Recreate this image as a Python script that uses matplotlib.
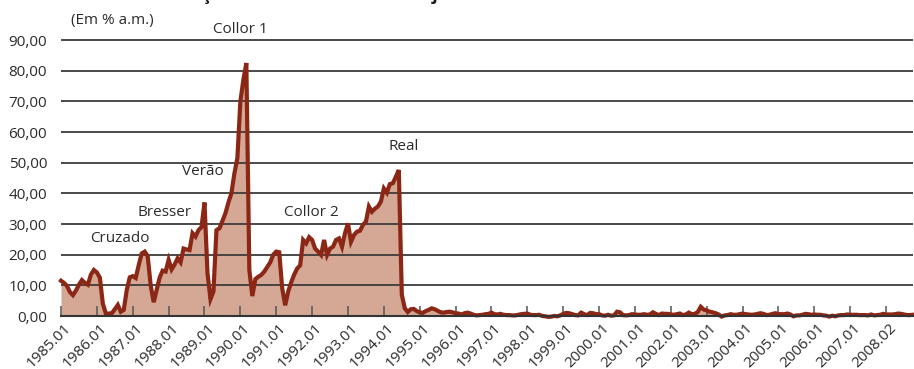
import matplotlib
matplotlib.use("Agg")
import matplotlib.pyplot as plt
import matplotlib.transforms as mtransforms
import numpy as np

plt.rcParams['font.family'] = ['Open Sans', 'DejaVu Sans']

# Monthly inflation (% a.m.), one list per year, starting 1985.01
y1985 = [11.5, 10.8, 9.8, 7.8, 6.8, 8.3, 10.2, 11.7, 10.8, 10.2, 13.5, 15.0]
y1986 = [14.2, 12.5, 4.0, 0.8, 0.8, 0.9, 2.2, 3.6, 1.4, 2.0, 8.5, 12.6]
y1987 = [13.0, 12.4, 16.6, 20.4, 21.0, 19.5, 10.0, 4.5, 8.5, 12.5, 14.8, 14.5]
y1988 = [18.3, 15.2, 16.8, 18.8, 17.5, 22.0, 21.7, 21.5, 27.0, 25.9, 28.0, 29.0]
y1989 = [37.0, 14.0, 5.5, 8.0, 28.0, 28.6, 31.0, 33.5, 37.0, 40.0, 46.5, 51.5]
y1990 = [70.0, 77.0, 82.5, 15.0, 6.5, 12.0, 12.8, 13.4, 14.5, 16.0, 17.5, 20.0]
y1991 = [21.0, 20.8, 9.0, 3.5, 8.0, 11.0, 13.5, 15.5, 16.5, 24.8, 23.7, 25.7]
y1992 = [24.8, 22.0, 21.0, 19.9, 24.8, 19.9, 22.0, 22.6, 24.8, 25.3, 22.6, 27.0]
y1993 = [30.2, 24.2, 26.4, 27.5, 27.8, 29.7, 30.8, 35.7, 34.0, 35.0, 35.7, 37.3]
y1994 = [41.6, 40.2, 43.0, 43.3, 45.4, 47.6, 7.0, 2.5, 1.3, 2.2, 2.3, 1.6]
y1995 = [1.2, 1.0, 1.6, 2.0, 2.5, 2.2, 1.7, 1.2, 1.1, 1.3, 1.4, 1.2]
y1996 = [0.9, 0.8, 0.5, 0.9, 1.1, 0.8, 0.4, 0.2, 0.3, 0.4, 0.6, 0.7]
y1997 = [1.1, 0.6, 0.5, 0.7, 0.4, 0.3, 0.3, 0.2, 0.2, 0.4, 0.6, 0.7]
y1998 = [0.8, 0.4, 0.3, 0.3, 0.4, 0.0, -0.1, -0.3, -0.2, 0.0, -0.1, 0.2]
y1999 = [0.7, 1.0, 0.9, 0.6, 0.3, 0.2, 1.1, 0.6, 0.3, 1.0, 0.9, 0.6]
y2000 = [0.6, 0.2, 0.1, 0.4, 0.1, 0.2, 1.4, 1.2, 0.3, 0.2, 0.3, 0.6]
y2001 = [0.5, 0.4, 0.4, 0.6, 0.4, 0.5, 1.2, 0.7, 0.3, 0.8, 0.7, 0.7]
y2002 = [0.5, 0.4, 0.6, 0.8, 0.3, 0.5, 1.1, 0.6, 0.7, 1.3, 3.0, 2.1]
y2003 = [1.8, 1.4, 1.2, 0.9, 0.5, -0.2, 0.2, 0.3, 0.6, 0.4, 0.4, 0.6]
y2004 = [0.8, 0.6, 0.5, 0.4, 0.5, 0.7, 0.9, 0.7, 0.3, 0.4, 0.7, 0.9]
y2005 = [0.6, 0.6, 0.6, 0.8, 0.5, -0.1, 0.2, 0.2, 0.4, 0.7, 0.6, 0.4]
y2006 = [0.5, 0.4, 0.4, 0.2, 0.1, -0.2, 0.1, -0.1, 0.2, 0.3, 0.3, 0.5]
y2007 = [0.4, 0.4, 0.4, 0.3, 0.3, 0.3, 0.2, 0.5, 0.2, 0.3, 0.4, 0.7]
y2008 = [0.5, 0.5, 0.5, 0.6, 0.8, 0.7, 0.5, 0.3, 0.3, 0.4]

years = [y1985, y1986, y1987, y1988, y1989, y1990, y1991, y1992, y1993,
         y1994, y1995, y1996, y1997, y1998, y1999, y2000, y2001, y2002,
         y2003, y2004, y2005, y2006, y2007, y2008]
inflacao = np.concatenate(years)
meses = np.arange(len(inflacao))

tick_labels = ['1985.01', '1986.01', '1987.01', '1988.01', '1989.01', '1990.01',
               '1991.01', '1992.01', '1993.01', '1994.01', '1995.01', '1996.01',
               '1997.01', '1998.01', '1999.01', '2000.01', '2001.01', '2002.01',
               '2003.01', '2004.01', '2005.01', '2006.01', '2007.01', '2008.02']

# plan names and where they sit (month index, % a.m.)
planos = ['Cruzado', 'Bresser', 'Verão', 'Collor 1', 'Collor 2', 'Real']
planos_x = [19.7, 34.8, 47.5, 59.9, 83.6, 114.7]
planos_y = [25.4, 33.6, 47.0, 93.3, 33.6, 55.4]

fill_color = '#D4A894'
line_color = '#8C2716'
text_color = '#2b2b2b'

fig = plt.figure(figsize=(9.14, 3.69), dpi=100)
ax = fig.add_axes([61/914, 53/369, 852/914, 277.5/369])

ax.fill_between(meses, 0, inflacao, color=fill_color, lw=0, zorder=1)
for v in range(10, 100, 10):
    ax.axhline(v, color='#3c3c3c', lw=1.3, zorder=2)
ax.plot(meses, inflacao, color=line_color, lw=3.0, zorder=3,
        solid_joinstyle='miter', clip_on=False)

ax.set_xlim(0, len(inflacao) - 1)
ax.set_ylim(0, 90.5)

ax.set_yticks(range(0, 100, 10))
ax.set_yticklabels(['%d,00' % v for v in range(0, 100, 10)])
ax.tick_params(axis='y', length=0, pad=10, labelsize=11, labelcolor=text_color)

ax.set_xticks(meses[::12][:len(tick_labels)])
ax.set_xticklabels(tick_labels, rotation=45, ha='right', va='center',
                   rotation_mode='anchor')
ax.tick_params(axis='x', direction='in', length=7.5, width=1.1, color='#555555',
               labelsize=11, labelcolor=text_color, pad=4)
# push the slanted dates a little to the right of their ticks
shift = mtransforms.ScaledTranslation(8/100, -4/100, fig.dpi_scale_trans)
for lab in ax.get_xticklabels():
    lab.set_transform(lab.get_transform() + shift)

for side in ['left', 'top', 'right']:
    ax.spines[side].set_visible(False)
ax.spines['bottom'].set_color('#333333')
ax.spines['bottom'].set_linewidth(1.5)
ax.spines['bottom'].set_zorder(4)

for nome, px, py in zip(planos, planos_x, planos_y):
    ax.text(px, py, nome, ha='center', va='center', fontsize=11,
            color=text_color, clip_on=False, zorder=5)

ax.text(17, 96.5, '(Em % a.m.)', ha='center', va='center', fontsize=11,
        color=text_color, clip_on=False)

# chart title, sitting above the frame
fig.text(162/914, 1.0, 'Inflação mensal no Brasil: a trajetória',
         ha='left', va='baseline', fontsize=12.6, fontweight='bold', color='#1a1a1a')

fig.savefig('out.png', dpi=100)
